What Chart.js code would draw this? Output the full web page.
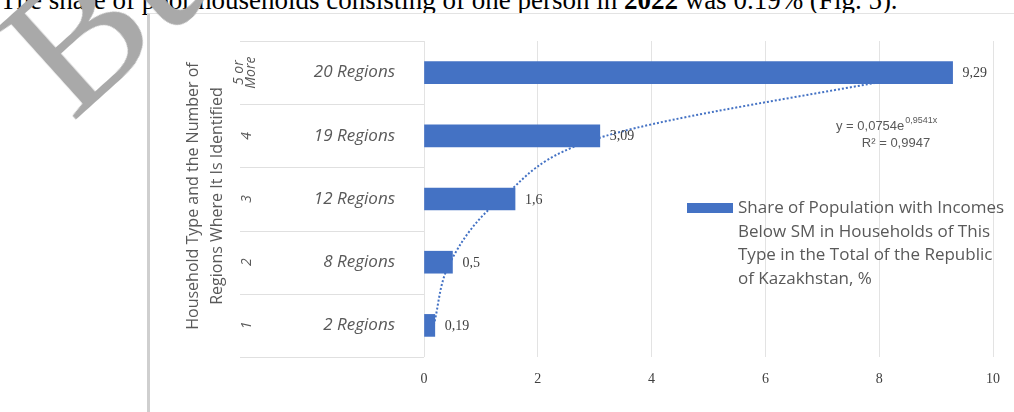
<!DOCTYPE html>
<html>
<head>
<meta charset="utf-8">
<script src="https://cdn.jsdelivr.net/npm/chart.js@4.4.1/dist/chart.umd.min.js"></script>
<style>
  html, body { margin: 0; padding: 0; background: #fff; width: 1014px; height: 412px; overflow: hidden; }
  #head { position: absolute; left: 0; top: -15px; white-space: nowrap; line-height: 28px;
          font: 27px "Liberation Serif", serif; color: #000; }
  #box { position: absolute; left: 147px; top: 13px; width: 880px; height: 420px;
         border: 1px solid #e3e3e3; border-left: 3px solid #cfcfcf; background: #fff; }
  #wrap { position: absolute; left: 0; top: 0; width: 1014px; height: 412px; }
  #mark { position: absolute; left: 72px; top: -32px; font-size: 185px; line-height: 185px;
          font-family: "Liberation Serif", serif; color: #a9a9a9;
          transform-origin: 0 155px; transform: rotate(-42deg); }
</style>
</head>
<body>
<div id="head">The share of poor households consisting of one person in <b>2022</b> was 0.19% (Fig. 5).</div>
<div id="box"></div>
<div id="wrap"><canvas id="c" width="1014" height="412"></canvas></div>
<div id="mark">Bu</div>
<script>
'use strict';

// categories, top to bottom
const regions     = ['20 Regions', '19 Regions', '12 Regions', '8 Regions', '2 Regions'];
const householdType = [['5 or', 'More'], ['4'], ['3'], ['2'], ['1']];
const shares      = [9.29, 3.09, 1.6, 0.5, 0.19];
// exponential trendline at each row
const trend       = [8.9, 3.2, 1.35, 0.46, 0.17];
const xTicks      = [0, 2, 4, 6, 8, 10];
const legendLines = ['Share of Population with Incomes', 'Below SM in Households of This',
                     'Type in the Total of the Republic', 'of Kazakhstan, %'];
const yTitle      = ['Household Type and the Number of', 'Regions Where It Is Identified'];

const BLUE = '#4472c4';
const GREY = '#595959';
const comma = v => String(v).replace('.', ',');

const extras = {
  id: 'extras',
  afterDraw(chart) {
    const { ctx, chartArea: a, scales: { x, y } } = chart;
    const step = y.getPixelForValue(1) - y.getPixelForValue(0);
    ctx.save();

    // row separators in the two-level label area
    ctx.strokeStyle = '#e0e0e0';
    ctx.lineWidth = 1;
    for (let i = 0; i <= regions.length; i++) {
      const yy = Math.round(y.getPixelForValue(i) - step / 2) + 0.5;
      ctx.beginPath(); ctx.moveTo(240, yy); ctx.lineTo(a.left, yy); ctx.stroke();
    }

    // outer labels (household type), rotated
    ctx.fillStyle = GREY;
    ctx.font = 'italic 14px "Open Sans"';
    ctx.textAlign = 'center';
    ctx.textBaseline = 'middle';
    householdType.forEach((lines, i) => {
      const cy = y.getPixelForValue(i);
      lines.forEach((t, j) => {
        const cx = lines.length > 1 ? 239 + j * 12 : 247;
        ctx.save(); ctx.translate(cx, cy); ctx.rotate(-Math.PI / 2);
        ctx.fillText(t, 0, 0); ctx.restore();
      });
    });

    // axis title
    ctx.font = '16px "Open Sans"';
    yTitle.forEach((t, j) => {
      ctx.save(); ctx.translate(193 + j * 24, (a.top + a.bottom) / 2 - 3);
      ctx.rotate(-Math.PI / 2); ctx.fillText(t, 0, 0); ctx.restore();
    });

    // data labels
    ctx.font = '14px "Liberation Serif"';
    ctx.fillStyle = '#404040';
    ctx.textAlign = 'left';
    shares.forEach((v, i) => {
      ctx.fillText(comma(v), x.getPixelForValue(v) + 10, y.getPixelForValue(i) + 1);
    });

    // trendline equation
    ctx.fillStyle = GREY;
    ctx.font = '13px "Liberation Sans"';
    ctx.textAlign = 'left';
    ctx.fillText('y = 0,0754e', 836, 126);
    const w = ctx.measureText('y = 0,0754e').width;
    ctx.font = '9px "Liberation Sans"';
    ctx.fillText('0,9541x', 836 + w + 1, 121);
    ctx.font = '13px "Liberation Sans"';
    ctx.textAlign = 'center';
    ctx.fillText('R\u00b2 = 0,9947', 896, 143);

    // legend
    ctx.fillStyle = BLUE;
    ctx.fillRect(687, 203, 46, 10);
    ctx.fillStyle = GREY;
    ctx.font = '17px "Open Sans"';
    ctx.textAlign = 'left';
    legendLines.forEach((t, j) => ctx.fillText(t, 738, 208 + j * 23.7));

    ctx.restore();
  }
};

new Chart(document.getElementById('c'), {
  type: 'bar',
  data: {
    labels: regions,
    datasets: [
      { label: legendLines.join(' '), data: shares, backgroundColor: BLUE,
        barThickness: 22, order: 0 },
      { type: 'line', label: 'Expon.', data: trend, indexAxis: 'y',
        borderColor: BLUE, borderWidth: 2, borderDash: [2, 2], pointRadius: 0,
        cubicInterpolationMode: 'monotone', fill: false, order: 1 }
    ]
  },
  options: {
    indexAxis: 'y',
    responsive: false,
    animation: false,
    layout: { padding: { left: 0, right: 16, top: 41, bottom: 15 } },
    plugins: { legend: { display: false }, tooltip: { enabled: false } },
    scales: {
      x: {
        min: 0, max: 10,
        afterBuildTicks: s => { s.ticks = xTicks.map(v => ({ value: v })); },
        afterFit: s => { s.height = 40; },
        ticks: { color: '#404040', font: { family: 'Liberation Serif', size: 14 }, padding: 14 },
        grid: { color: '#e3e3e3', drawTicks: false },
        border: { display: false }
      },
      y: {
        afterFit: s => { s.width = 424; },
        ticks: { color: GREY, font: { family: 'Open Sans', size: 17, style: 'italic' }, padding: 21 },
        grid: { display: false },
        border: { display: false }
      }
    }
  },
  plugins: [extras]
});
</script>
</body>
</html>
